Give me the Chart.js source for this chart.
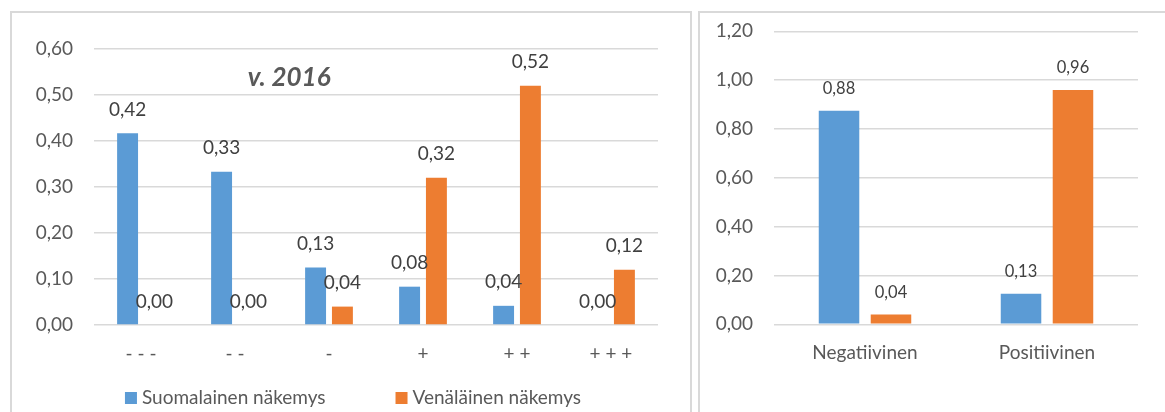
<!DOCTYPE html>
<html lang="fi">
<head>
<meta charset="utf-8">
<script src="https://cdn.jsdelivr.net/npm/chart.js@4.4.1/dist/chart.umd.min.js"></script>
<style>
  html, body { margin: 0; padding: 0; background: #fff; width: 1165px; height: 412px; overflow: hidden; }
  .panel { position: absolute; box-sizing: border-box; background: #fff; }
  #leftPanel { left: 10px; top: 11px; width: 682px; height: 420px; border: 2px solid #d9d9d9; }
  #rightPanel { left: 698px; top: 11px; width: 480px; height: 420px; border-left: 2px solid #d9d9d9; border-top: 2px solid #d9d9d9; }
  canvas { display: block; }
</style>
</head>
<body>
<div class="panel" id="leftPanel"><canvas id="scaleChart" width="678" height="399"></canvas></div>
<div class="panel" id="rightPanel"><canvas id="sumChart" width="465" height="399"></canvas></div>
<script>
// Shares of answers on the -3 ... +3 scale
const scaleCategories = ['- - -', '- -', '-', '+', '+ +', '+ + +'];
const finnishView = [0.4167, 0.3333, 0.125, 0.0833, 0.0417, 0];
const russianView = [0, 0, 0.04, 0.32, 0.52, 0.12];

// Same answers grouped into negative / positive
const summaryCategories = ['Negatiivinen', 'Positiivinen'];
const finnishSummary = [0.875, 0.125];
const russianSummary = [0.04, 0.96];

const seriesNames = ['Suomalainen näkemys', 'Venäläinen näkemys'];
const yearTitle = 'v. 2016';

const BLUE = '#5b9bd5';
const ORANGE = '#ed7d31';
const TICK_COLOR = '#595959';
const LABEL_COLOR = '#404040';
const GRID_COLOR = '#d9d9d9';
const FONT = 'Lato, "Open Sans", sans-serif';

Chart.defaults.font.family = FONT;
Chart.defaults.color = TICK_COLOR;

const fmt = v => Number(v).toFixed(2).replace('.', ',');

// Value printed above every bar
const valueLabels = {
  id: 'valueLabels',
  afterDatasetsDraw(chart, args, opts) {
    const { ctx } = chart;
    ctx.save();
    ctx.font = `${opts.size}px ${FONT}`;
    ctx.fillStyle = LABEL_COLOR;
    ctx.textAlign = 'center';
    ctx.textBaseline = 'middle';
    chart.data.datasets.forEach((ds, i) => {
      const meta = chart.getDatasetMeta(i);
      meta.data.forEach((bar, j) => {
        ctx.fillText(fmt(ds.data[j]), bar.x, bar.y - opts.offset);
      });
    });
    ctx.restore();
  }
};

// Square-swatch legend under the category axis
const keyLegend = {
  id: 'keyLegend',
  afterDraw(chart, args, opts) {
    if (!opts.show) return;
    const { ctx, chartArea } = chart;
    ctx.save();
    ctx.font = `${opts.size}px ${FONT}`;
    ctx.textBaseline = 'middle';
    const items = chart.data.datasets.map(ds => ({
      text: ds.label, color: ds.backgroundColor, w: ctx.measureText(ds.label).width
    }));
    const box = 12, gap = 5, spacing = opts.spacing;
    const total = items.reduce((s, it) => s + box + gap + it.w, 0) + spacing * (items.length - 1);
    let x = chart.width / 2 + opts.shift - total / 2;
    const y = chartArea.bottom + opts.offset;
    items.forEach(it => {
      ctx.fillStyle = it.color;
      ctx.fillRect(x, y - box / 2, box, box);
      ctx.fillStyle = TICK_COLOR;
      ctx.textAlign = 'left';
      ctx.fillText(it.text, x + box + gap, y);
      x += box + gap + it.w + spacing;
    });
    ctx.restore();
  }
};

// Year caption inside the plot area
const plotCaption = {
  id: 'plotCaption',
  afterDatasetsDraw(chart, args, opts) {
    if (!opts.text) return;
    const { ctx, chartArea } = chart;
    ctx.save();
    ctx.font = `italic bold ${opts.size}px ${FONT}`;
    ctx.fillStyle = TICK_COLOR;
    ctx.textAlign = 'center';
    ctx.textBaseline = 'middle';
    ctx.fillText(opts.text,
      chartArea.left + opts.x * (chartArea.right - chartArea.left),
      chartArea.top + opts.dy);
    ctx.restore();
  }
};

function barConfig(cfg) {
  return {
    type: 'bar',
    data: {
      labels: cfg.labels,
      datasets: [
        { label: seriesNames[0], data: cfg.blue, backgroundColor: BLUE,
          categoryPercentage: 0.571, barPercentage: 0.78 },
        { label: seriesNames[1], data: cfg.orange, backgroundColor: ORANGE,
          categoryPercentage: 0.571, barPercentage: 0.78 }
      ]
    },
    options: {
      responsive: false,
      animation: false,
      layout: { padding: cfg.padding },
      scales: {
        x: {
          grid: { display: false, drawTicks: false },
          border: { display: false },
          ticks: { font: { size: 19 }, color: TICK_COLOR, padding: 17, maxRotation: 0 },
          afterFit(scale) { scale.height = 40; }
        },
        y: {
          min: 0, max: cfg.max,
          grid: { color: GRID_COLOR, lineWidth: 1.5, drawTicks: false },
          border: { display: false },
          ticks: { stepSize: cfg.step, font: { size: 19 }, color: TICK_COLOR, padding: 21,
                   callback: v => fmt(v) },
          afterFit(scale) {
            // fixed axis width; the plot area is placed by the layout padding alone
            scale.width = cfg.axisWidth;
            scale.paddingTop = 0;
            scale.paddingBottom = 0;
          }
        }
      },
      plugins: {
        legend: { display: false },
        tooltip: { enabled: false },
        valueLabels: { size: cfg.labelSize, offset: cfg.labelOffset },
        keyLegend: { show: cfg.legend, size: 19, spacing: 70, shift: 2, offset: 73 },
        plotCaption: cfg.caption || {}
      }
    },
    plugins: [valueLabels, keyLegend, plotCaption]
  };
}

new Chart(document.getElementById('scaleChart'), barConfig({
  labels: scaleCategories,
  blue: finnishView,
  orange: russianView,
  max: 0.6, step: 0.1,
  axisWidth: 82,
  padding: { top: 36, right: 32, bottom: 47, left: 0 },
  labelSize: 19, labelOffset: 23.5,
  legend: true,
  caption: { text: yearTitle, size: 26, x: 0.346, dy: 28.7 }
}));

new Chart(document.getElementById('sumChart'), barConfig({
  labels: summaryCategories,
  blue: finnishSummary,
  orange: russianSummary,
  max: 1.2, step: 0.2,
  axisWidth: 74,
  padding: { top: 18.3, right: 27, bottom: 47.7, left: 0 },
  labelSize: 16.5, labelOffset: 21.8,
  legend: false
}));
</script>
</body>
</html>
